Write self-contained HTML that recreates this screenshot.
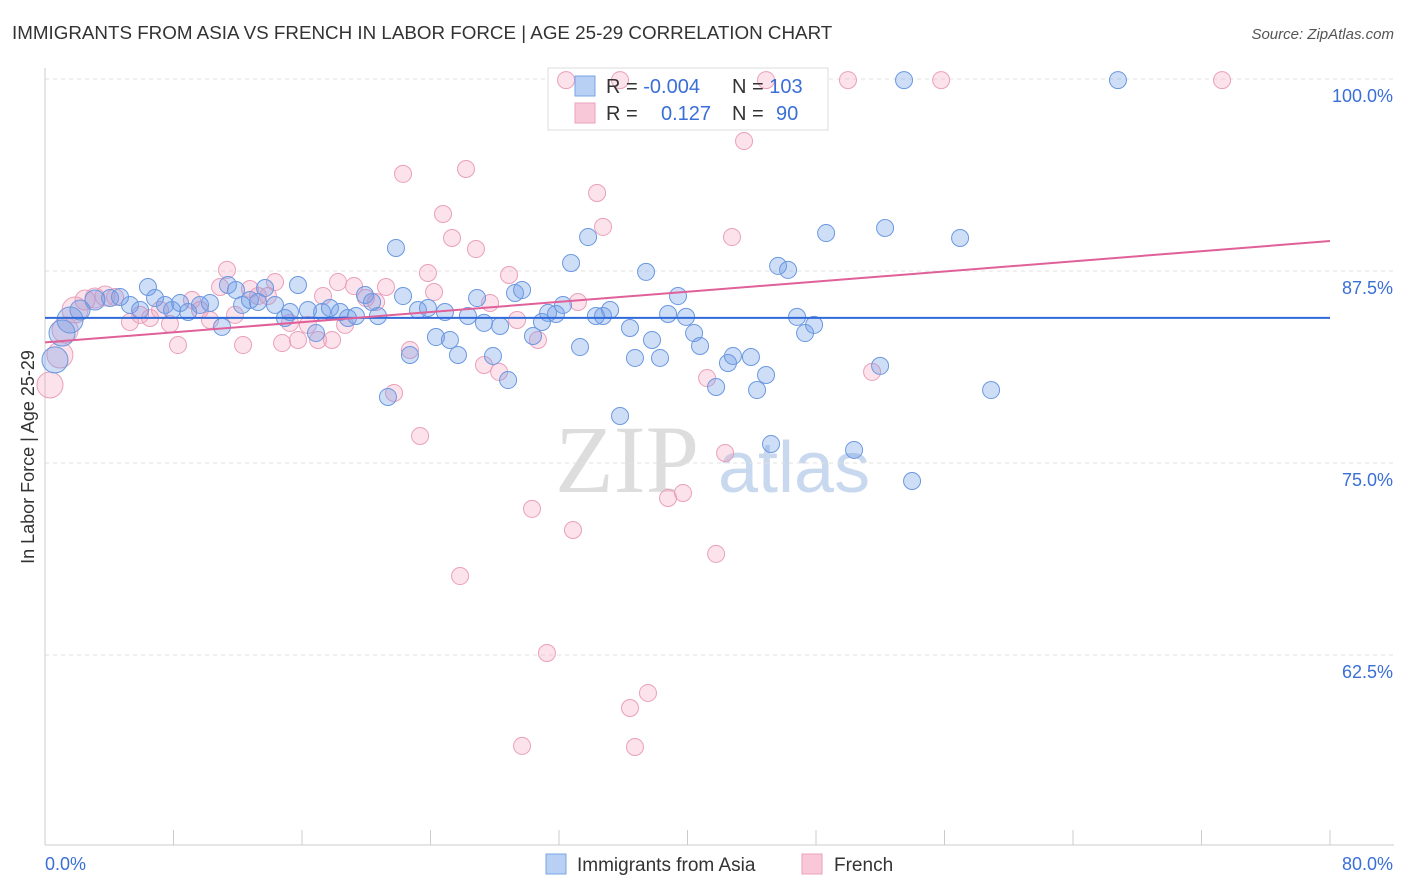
<!DOCTYPE html>
<html><head><meta charset="utf-8">
<style>
body{margin:0;background:#fff;font-family:"Liberation Sans",sans-serif;}
#wrap{position:relative;width:1406px;height:892px;overflow:hidden;}
</style></head>
<body>
<div id="wrap">
<svg id="svg" width="1406" height="892" xmlns="http://www.w3.org/2000/svg">
<text x="12" y="39" font-size="18.8" fill="#333">IMMIGRANTS FROM ASIA VS FRENCH IN LABOR FORCE | AGE 25-29 CORRELATION CHART</text>
<text x="1394" y="39" font-size="15" fill="#555" font-style="italic" text-anchor="end">Source: ZipAtlas.com</text>
<text x="555" y="492" font-size="96" fill="#ddd" font-family="Liberation Serif,serif">ZIP</text>
<text x="718" y="492" font-size="72" fill="#c8d8ee">atlas</text>
<text transform="translate(34,457) rotate(-90)" font-size="18" fill="#333" text-anchor="middle">In Labor Force | Age 25-29</text>
<g id="grid"></g><g id="ticks"></g>
<g>
<rect x="548" y="68" width="280" height="62" fill="#fff" stroke="#ddd"/>
</g>
<g id="pts"></g><g id="trends"></g>
<g>
<rect x="575" y="76" width="20" height="20" fill="#b8d0f4" stroke="#7aa4e6"/>
<rect x="575" y="103" width="20" height="20" fill="#f8c8d8" stroke="#eaa0bb"/>
<text x="606" y="93" font-size="20" fill="#333">R = <tspan fill="#3a6fd8">-0.004</tspan></text>
<text x="732" y="93" font-size="20" fill="#333">N = <tspan fill="#3a6fd8">103</tspan></text>
<text x="606" y="120" font-size="20" fill="#333">R = <tspan fill="#3a6fd8" x="661">0.127</tspan></text>
<text x="732" y="120" font-size="20" fill="#333">N = <tspan fill="#3a6fd8" x="776">90</tspan></text>
</g>
<g>
<rect x="546" y="854" width="20" height="20" fill="#b8d0f4" stroke="#7aa4e6"/>
<text x="577" y="871" font-size="19" fill="#333">Immigrants from Asia</text>
<rect x="802" y="854" width="20" height="20" fill="#f8c8d8" stroke="#eaa0bb"/>
<text x="834" y="871" font-size="19" fill="#333">French</text>
</g>
</svg>
</div>
<script>
const yTicks=[62.5,75,87.5,100];
const yTickLabels=["62.5%","75.0%","87.5%","100.0%"];
const xEndLabels=["0.0%","80.0%"];
const asiaX=[0.62,1.06,1.56,2.18,3.11,4.05,4.67,5.29,5.92,6.41,6.85,7.47,7.91,8.41,8.91,9.65,10.27,11.02,11.39,11.89,12.27,12.76,13.26,13.70,14.32,14.94,15.25,15.75,16.37,16.87,17.25,17.74,18.37,18.86,19.36,19.92,20.36,20.73,21.35,21.85,22.29,22.72,23.22,23.84,24.34,24.90,25.21,25.71,26.33,26.90,27.33,27.89,28.33,28.83,29.26,29.70,30.38,30.94,31.32,31.81,32.25,32.75,33.31,33.81,34.30,34.74,35.18,35.80,36.42,36.73,37.42,37.79,38.29,38.79,39.41,39.91,40.41,40.78,41.78,42.52,42.83,43.95,44.33,44.89,45.20,45.64,46.26,46.82,47.32,47.88,48.63,50.37,51.99,52.30,53.48,53.98,56.97,58.90,66.80];
const asiaY=[81.71,83.46,84.31,84.96,85.61,85.74,85.81,85.29,84.96,86.46,85.74,85.29,84.96,85.42,84.83,85.29,85.42,83.86,86.59,86.26,85.29,85.61,85.48,86.39,85.29,84.44,84.83,86.59,84.96,83.46,84.83,85.09,84.83,84.44,84.57,85.94,85.48,84.57,79.30,89.00,85.87,82.03,84.96,85.09,83.20,84.83,83.01,82.03,84.57,85.74,84.12,81.97,83.92,80.40,86.07,86.26,83.27,84.18,84.77,84.70,85.29,88.02,82.55,89.71,84.57,84.57,84.96,78.06,83.79,81.84,87.44,83.01,81.84,84.70,85.87,84.51,83.46,82.62,79.95,81.51,81.97,81.90,79.75,80.73,76.24,87.83,87.57,84.51,83.46,83.99,89.97,75.85,81.32,90.30,99.93,73.83,89.65,79.75,99.93];
const frX=[0.31,0.93,1.25,1.87,2.49,3.11,3.74,4.36,5.29,5.92,6.54,7.16,7.78,8.28,9.15,9.65,10.27,10.90,11.33,11.83,12.33,12.76,13.26,13.88,14.32,14.76,15.25,15.75,16.37,17.00,17.31,17.87,18.24,18.68,19.24,19.98,20.61,21.23,21.73,22.29,22.72,23.35,23.84,24.22,24.78,25.34,25.84,26.21,26.83,27.33,27.71,28.27,28.89,29.39,29.70,30.32,30.69,31.25,32.44,32.87,33.18,34.37,34.74,35.80,36.42,36.73,37.54,38.79,39.72,41.22,41.78,42.34,42.77,43.52,44.89,49.99,51.49,55.79,73.28];
const frY=[80.08,82.03,83.66,84.96,85.61,85.74,85.87,85.81,84.18,84.64,84.44,84.96,84.05,82.68,85.61,84.96,84.31,86.46,87.57,84.64,82.68,86.33,85.87,85.87,86.78,82.81,84.12,83.01,83.99,83.01,85.87,83.01,86.78,83.99,86.52,85.74,85.48,86.46,79.56,93.82,82.36,76.76,87.37,86.13,91.21,89.65,67.64,94.14,88.93,81.38,85.42,80.93,87.24,84.31,56.58,72.01,83.01,62.63,99.93,70.64,85.48,92.58,90.37,99.93,59.05,56.51,60.03,72.72,73.05,80.53,69.08,75.65,89.71,95.96,99.93,99.93,80.93,99.93,99.93];
const asiaTrend=[84.45,84.45];
const frTrend=[82.85,89.45];

const NS="http://www.w3.org/2000/svg";
const sx=v=>45+v/80*1285;
const sy=v=>79+(100-v)/12.5*192;
function mk(tag,attrs,parent){const e=document.createElementNS(NS,tag);for(const k in attrs)e.setAttribute(k,attrs[k]);document.getElementById(parent).appendChild(e);return e;}
yTicks.forEach((t,i)=>{
  const g=mk('line',{x1:45,x2:1394,y1:sy(t),y2:sy(t),stroke:'#e2e2e2','stroke-dasharray':'4,4'},'grid');
  
  
  const l=mk('text',{x:1393,y:sy(t)+23,'font-size':18,fill:'#3a6fd8','text-anchor':'end'},'grid');
  l.textContent=yTickLabels[i];
  
  
});
const ax=mk('line',{x1:45,x2:1394,y1:845,y2:845,stroke:'#ccc'},'ticks');


const ay=mk('line',{x1:45,x2:45,y1:68,y2:845,stroke:'#ccc'},'ticks');


for(let i=0;i<=10;i++){
  const t=mk('line',{x1:sx(i*8),x2:sx(i*8),y1:830,y2:845,stroke:'#ccc'},'ticks');
  
  
}
[[0,'start'],[80,'end']].forEach((p,i)=>{
  const l=mk('text',{x:sx(p[0])+(i?63:0),y:870,'font-size':18,fill:'#3a6fd8','text-anchor':p[1]},'ticks');
  l.textContent=xEndLabels[i];
  
  
});
function dots(xs,ys,fill,stroke,name){
  xs.forEach((x,i)=>{
    const r=x<2?13:(x<4?10:8.5);
    const c=mk('circle',{cx:sx(x),cy:sy(ys[i]),r:r,fill:fill,stroke:stroke,'stroke-width':1},'pts');
    
    
  });
}
dots(frX,frY,'rgba(244,160,190,0.3)','#eaa0bb','point-french');
dots(asiaX,asiaY,'rgba(110,155,230,0.33)','#6a98e0','point-asia');
const t1=mk('line',{x1:sx(0),x2:sx(80),y1:sy(asiaTrend[0]),y2:sy(asiaTrend[1]),stroke:'#2f6ad8','stroke-width':2},'trends');


const t2=mk('line',{x1:sx(0),x2:sx(80),y1:sy(frTrend[0]),y2:sy(frTrend[1]),stroke:'#e0609a','stroke-width':2},'trends');


</script>
</body></html>
